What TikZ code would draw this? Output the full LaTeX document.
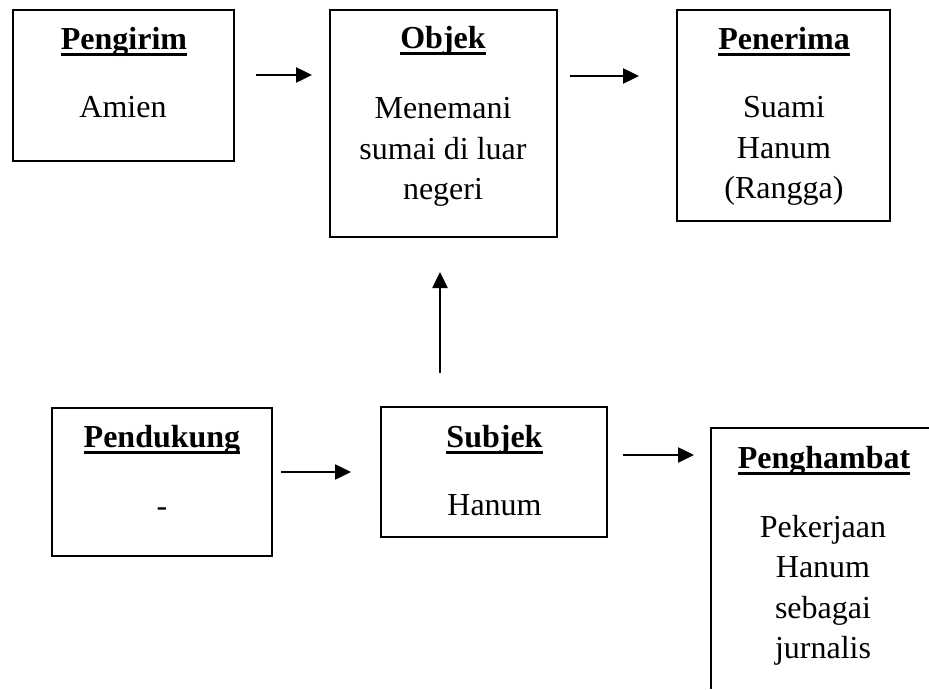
\documentclass[tikz,border=0pt]{standalone}
\usepackage{fontspec}
\setmainfont{Liberation Serif}
\usetikzlibrary{arrows.meta}

% stacked, centred lines whose baseline is that of the first line
\newcommand{\stackedlines}[1]{\begin{tabular}[t]{@{}c@{}}#1\end{tabular}}

\begin{document}
\begin{tikzpicture}[x=1pt,y=-1pt,
  box/.style={draw, line width=2pt, inner sep=0pt},
  lbl/.style={anchor=base, inner sep=0pt, font=\fontsize{32}{40.5}\selectfont},
  ttl/.style={lbl, font=\fontsize{32}{40.5}\selectfont\bfseries},
  uline/.style={line width=3pt},
  arr/.style={line width=2.5pt, -{Triangle[length=16pt,width=15pt]}}]
\useasboundingbox (0,0) rectangle (929,690);
\clip (0,0) rectangle (929,688);

% boxes
\node[box, minimum width=221pt, minimum height=151pt] (pengirim)  at (123.5,85.5) {};
\node[box, minimum width=227pt, minimum height=227pt] (objek)     at (443.5,123.5) {};
\node[box, minimum width=213pt, minimum height=211pt] (penerima)  at (783.5,115.5) {};
\node[box, minimum width=220pt, minimum height=148pt] (pendukung) at (162,482) {};
\node[box, minimum width=226pt, minimum height=130pt] (subjek)    at (494,472) {};
\node[box, minimum width=300pt, minimum height=300pt] (penghambat) at (861,578) {};

% titles
\node[ttl] (tPengirim)   at (124,50)  {Pengirim};
\node[ttl] (tObjek)      at (443,49)  {Objek};
\node[ttl] (tPenerima)   at (784,50)  {Penerima};
\node[ttl] (tPendukung)  at (162,447) {Pendukung};
\node[ttl] (tSubjek)     at (494.5,447) {Subjek};
\node[ttl] (tPenghambat) at (824,468) {Penghambat};
\foreach \t in {tPengirim,tObjek,tPenerima,tPendukung,tSubjek,tPenghambat}
  \draw[uline] ([yshift=-5pt]\t.base west) -- ([yshift=-5pt]\t.base east);

% contents
\node[lbl] (cPengirim)   at (123,118) {Amien};
\node[lbl] (cObjek)      at (443,119) {\stackedlines{Menemani\\sumai di luar\\negeri}};
\node[lbl] (cPenerima)   at (784,118) {\stackedlines{Suami\\Hanum\\(Rangga)}};
\node[lbl] (cPendukung)  at (162,516) {-};
\node[lbl] (cSubjek)     at (494.5,515) {Hanum};
\node[lbl] (cPenghambat) at (823,537) {\stackedlines{Pekerjaan\\Hanum\\sebagai\\jurnalis}};

% connectors
\coordinate (row1) at (0,75);
\coordinate (row2) at (0,76);
\coordinate (row3) at (0,472);
\coordinate (row4) at (0,455);
\coordinate (colv) at (440,0);
\draw[arr, shorten <=21pt, shorten >=17pt] (pengirim.east |- row1) -- (objek.west |- row1);
\draw[arr, shorten <=12pt, shorten >=37pt] (objek.east |- row2) -- (penerima.west |- row2);
\draw[arr, shorten <=33pt, shorten >=34pt] (colv |- subjek.north) -- (colv |- objek.south);
\draw[arr, shorten <=8pt, shorten >=29pt] (pendukung.east |- row3) -- (subjek.west |- row3);
\draw[arr, shorten <=15pt, shorten >=16pt] (subjek.east |- row4) -- (penghambat.west |- row4);
\end{tikzpicture}
\end{document}
